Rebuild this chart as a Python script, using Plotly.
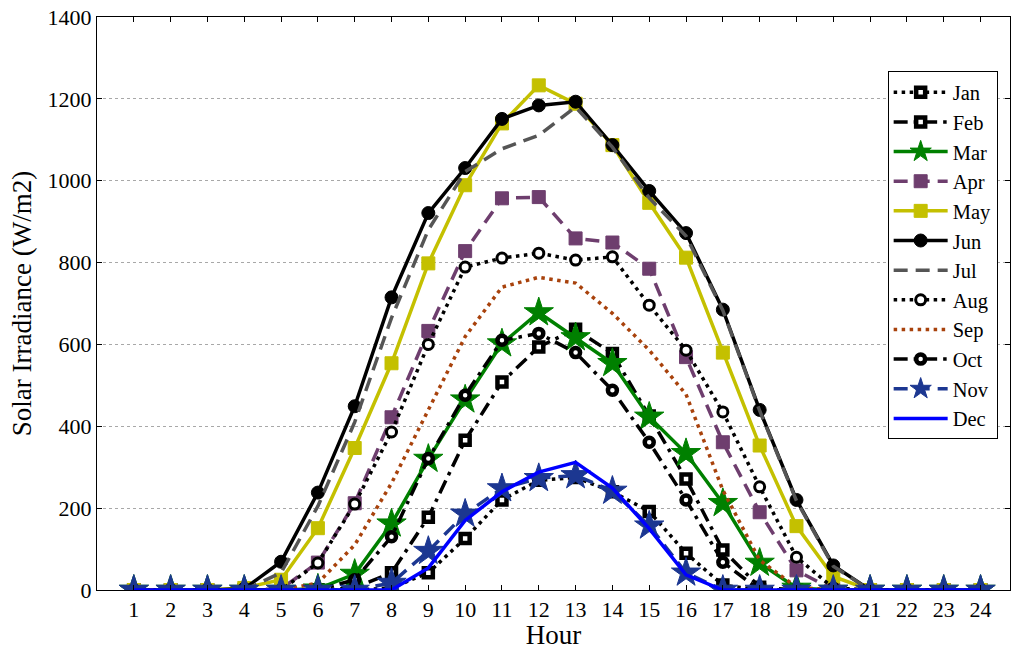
import plotly.graph_objects as go

# Hourly solar irradiance (W/m2) for each month
hours = list(range(1, 25))
month_names = ["Jan", "Feb", "Mar", "Apr", "May", "Jun",
               "Jul", "Aug", "Sep", "Oct", "Nov", "Dec"]

jan = [0, 0, 0, 0, 0, 0, 0, 5, 42, 126, 220, 268, 275, 240, 192, 90, 12, 0, 0, 0, 0, 0, 0, 0]
feb = [0, 0, 0, 0, 0, 0, 5, 42, 178, 366, 508, 594, 637, 578, 425, 271, 98, 7, 0, 0, 0, 0, 0, 0]
mar = [0, 0, 0, 0, 0, 3, 39, 162, 320, 465, 602, 678, 617, 554, 423, 334, 212, 66, 5, 0, 0, 0, 0, 0]
apr = [0, 0, 0, 0, 3, 67, 212, 422, 633, 828, 957, 960, 859, 849, 785, 569, 361, 190, 48, 0, 0, 0, 0, 0]
may = [0, 0, 0, 5, 25, 151, 347, 554, 798, 989, 1140, 1233, 1188, 1087, 946, 812, 580, 353, 156, 33, 0, 0, 0, 0]
jun = [0, 0, 0, 3, 69, 238, 449, 715, 921, 1031, 1151, 1184, 1193, 1087, 975, 872, 685, 440, 220, 60, 0, 0, 0, 0]
jul = [0, 0, 0, 0, 42, 205, 410, 665, 880, 1022, 1078, 1111, 1180, 1082, 958, 865, 683, 438, 218, 58, 0, 0, 0, 0]
aug = [0, 0, 0, 0, 0, 66, 210, 386, 600, 789, 811, 823, 806, 814, 696, 586, 435, 252, 80, 5, 0, 0, 0, 0]
sep = [0, 0, 0, 0, 0, 17, 110, 261, 440, 619, 740, 764, 750, 676, 586, 478, 244, 73, 7, 0, 0, 0, 0, 0]
oct_ = [0, 0, 0, 0, 0, 0, 25, 130, 321, 476, 610, 627, 580, 488, 361, 220, 68, 0, 0, 0, 0, 0, 0, 0]
nov = [0, 0, 0, 0, 0, 0, 0, 17, 95, 186, 248, 273, 280, 242, 157, 42, 0, 0, 0, 0, 0, 0, 0, 0]
dec = [0, 0, 0, 0, 0, 0, 0, 0, 54, 170, 240, 288, 312, 249, 150, 37, 0, 0, 0, 0, 0, 0, 0, 0]

series = [jan, feb, mar, apr, may, jun, jul, aug, sep, oct_, nov, dec]

DOT = "3.5px,4.5px"
DASH = "14px,8px"
DASHDOT = "14px,6px,3.5px,6px"

# line color, dash, marker symbol, marker fill, marker edge, marker size, edge width
styles = {
    "Jan": ("black", DOT, "square", "white", "black", 9, 4.5),
    "Feb": ("black", DASHDOT, "square", "white", "black", 9, 4.5),
    "Mar": ("#008000", "solid", "star", "#008000", "#008000", 22, 1),
    "Apr": ("#6E3E6E", DASH, "square", "#6E3E6E", "#6E3E6E", 13, 1),
    "May": ("#C4C000", "solid", "square", "#C4C000", "#C4C000", 13, 1),
    "Jun": ("black", "solid", "circle", "black", "black", 13, 1),
    "Jul": ("#555555", DASH, None, None, None, 0, 0),
    "Aug": ("black", DOT, "circle", "white", "black", 10, 3),
    "Sep": ("#A8420C", DOT, None, None, None, 0, 0),
    "Oct": ("black", DASHDOT, "circle", "white", "black", 9, 4.5),
    "Nov": ("#1C3791", DASH, "star", "#1C3791", "#1C3791", 22, 1),
    "Dec": ("#0000FF", "solid", None, None, None, 0, 0),
}

FONT = "Liberation Serif, Times New Roman, serif"

fig = go.Figure()
for name, values in zip(month_names, series):
    color, dash, symbol, fill, edge, msize, ewidth = styles[name]
    trace = dict(
        x=hours, y=values, name=name,
        line=dict(color=color, width=3.5, dash=dash),
    )
    if symbol:
        trace["mode"] = "lines+markers"
        trace["marker"] = dict(symbol=symbol, size=msize, color=fill,
                               line=dict(color=edge, width=ewidth))
    else:
        trace["mode"] = "lines"
    fig.add_trace(go.Scatter(**trace))

fig.update_layout(
    width=1015, height=650,
    margin=dict(l=97, r=5, t=17, b=60),
    paper_bgcolor="white", plot_bgcolor="white",
    font=dict(family=FONT, size=22, color="black"),
    showlegend=True,
    legend=dict(
        x=0.866, y=0.905, xanchor="left", yanchor="top",
        bgcolor="white", bordercolor="black", borderwidth=1,
        font=dict(family=FONT, size=20.5, color="black"),
        itemwidth=54, tracegroupgap=0,
    ),
)

fig.update_xaxes(
    range=[0, 24.8], tickmode="array", tickvals=hours,
    ticktext=[str(h) for h in hours],
    showgrid=False, zeroline=False,
    showline=True, linecolor="black", linewidth=1, mirror="ticks",
    ticks="inside", ticklen=5, tickcolor="black",
    tickfont=dict(family=FONT, size=22),
    title=dict(text="Hour", font=dict(family=FONT, size=27), standoff=4),
)
fig.update_yaxes(
    range=[0, 1400], tickvals=[0, 200, 400, 600, 800, 1000, 1200, 1400],
    showgrid=True, gridcolor="#a8a8a8", gridwidth=1, griddash="dot",
    zeroline=False,
    showline=True, linecolor="black", linewidth=1, mirror="ticks",
    ticks="inside", ticklen=5, tickcolor="black",
    tickfont=dict(family=FONT, size=22),
    title=dict(text="Solar Irradiance (W/m2)", font=dict(family=FONT, size=27), standoff=8),
)

fig.write_html("out.html")
